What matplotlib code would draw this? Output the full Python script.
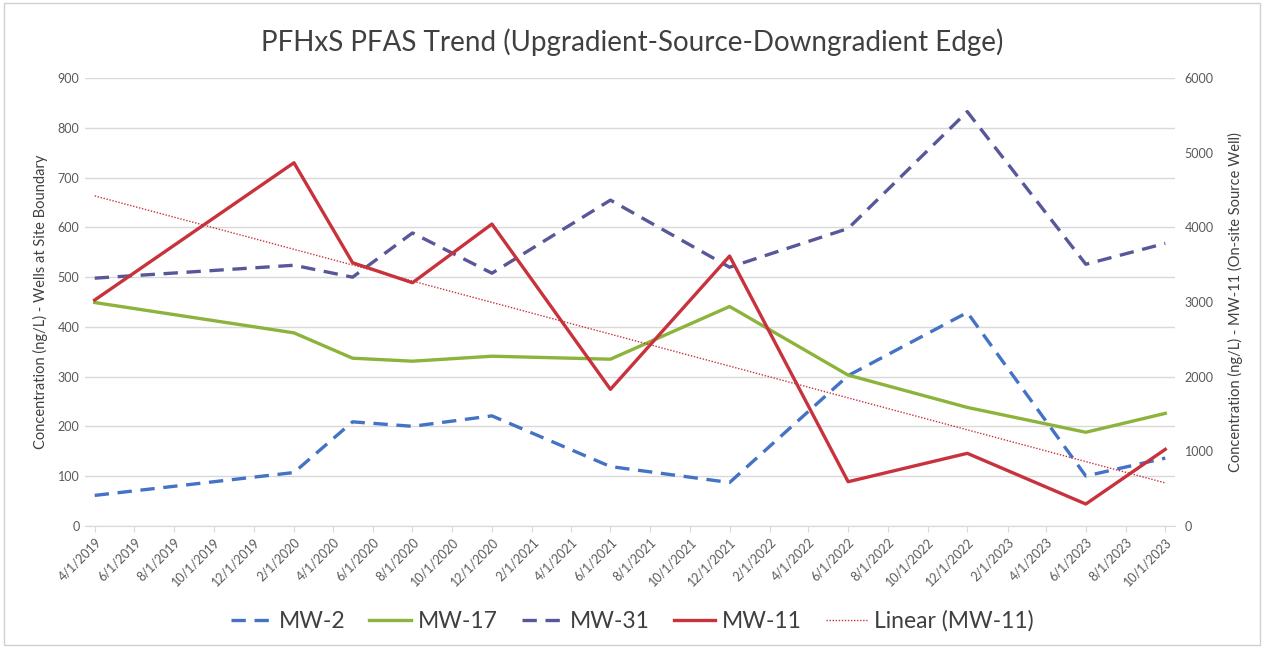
import matplotlib
matplotlib.use("Agg")
import matplotlib.pyplot as plt
import matplotlib.dates as mdates
import numpy as np
import pandas as pd

plt.rcParams['font.family'] = ['Lato', 'DejaVu Sans']

sample_dates = ["2019-04-01", "2020-02-01", "2020-05-01", "2020-08-01", "2020-12-01",
                "2021-06-01", "2021-12-01", "2022-06-01", "2022-12-01", "2023-06-01", "2023-10-01"]
mw2 = [61, 107, 209, 200, 221, 119, 87, 302, 429, 100, 136]
mw17 = [449, 388, 337, 331, 341, 335, 441, 303, 238, 188, 226]
mw31 = [498, 524, 500, 589, 508, 655, 520, 598, 833, 526, 568]
mw11 = [3027, 4868, 3527, 3259, 4046, 1829, 3617, 590, 971, 291, 1024]

tick_dates = pd.date_range("2019-04-01", "2023-10-01", freq="2MS")
left_ticks = list(range(0, 901, 100))
right_ticks = list(range(0, 6001, 1000))

title = "PFHxS PFAS Trend (Upgradient-Source-Downgradient Edge)"
left_label = "Concentration (ng/L) - Wells at Site Boundary"
right_label = "Concentration (ng/L) - MW-11 (On-site Source Well)"

dates = pd.to_datetime(sample_dates)

fig = plt.figure(figsize=(12.64, 6.48), dpi=100)
ax = fig.add_axes([0.0672, 0.1887, 0.8624, 0.6904])
ax2 = ax.twinx()

c_blue = "#4472C4"
c_green = "#8CB33C"
c_purple = "#57579A"
c_red = "#C8323C"
gray_txt = "#595959"

lw = 2.4
ax.plot(dates, mw2, color=c_blue, lw=lw, dashes=(4.3, 2.6), label="MW-2", zorder=3)
ax.plot(dates, mw17, color=c_green, lw=lw, label="MW-17", zorder=3)
ax.plot(dates, mw31, color=c_purple, lw=lw, dashes=(4.3, 2.6), label="MW-31", zorder=3)
ax2.plot(dates, mw11, color=c_red, lw=lw, label="MW-11", zorder=4)

# linear trendline of MW-11
xn = mdates.date2num(dates)
coef = np.polyfit(xn, mw11, 1)
tx = np.array([xn[0], xn[-1]])
ax2.plot(mdates.num2date(tx), np.polyval(coef, tx), color=c_red, lw=1.0,
         linestyle=(0, (1, 1.2)), label="Linear (MW-11)", zorder=4)

ax.set_ylim(0, 900)
ax2.set_ylim(0, 6000)
ax.set_yticks(left_ticks)
ax2.set_yticks(right_ticks)
ax.set_xlim(pd.Timestamp("2019-03-17"), pd.Timestamp("2023-10-16"))
ax.set_xticks(tick_dates)
ax.set_xticklabels([f"{d.month}/{d.day}/{d.year}" for d in tick_dates],
                   rotation=45, ha="right", rotation_mode="anchor", fontsize=9, color=gray_txt)

ax.grid(axis="y", color="#D9D9D9", lw=1.0)
ax.set_axisbelow(True)
for a in (ax, ax2):
    for s in a.spines.values():
        s.set_visible(False)
ax.spines["bottom"].set_visible(True)
ax.spines["bottom"].set_color("#D9D9D9")
ax.tick_params(axis="y", length=0, labelsize=9, labelcolor=gray_txt, pad=4)
ax2.tick_params(axis="y", length=0, labelsize=9, labelcolor=gray_txt, pad=7)
ax.tick_params(axis="x", length=4, color="#D9D9D9", pad=3)

ax.set_ylabel(left_label, fontsize=10.5, color="#404040", labelpad=7)
ax2.set_ylabel(right_label, fontsize=10.5, color="#404040", rotation=90, labelpad=10)

fig.text(0.5, 0.935, title, ha="center", va="center", fontsize=20, color="#404040")

h1, l1 = ax.get_legend_handles_labels()
h2, l2 = ax2.get_legend_handles_labels()
fig.legend(h1 + h2, l1 + l2, loc="center", bbox_to_anchor=(0.5, 0.042), ncol=5,
           frameon=False, fontsize=16.5, handlelength=1.8, columnspacing=1.05,
           handletextpad=0.3, labelcolor="#404040")

fig.patches.append(plt.Rectangle((0.003, 0.004), 0.994, 0.992, transform=fig.transFigure,
                                 fill=False, edgecolor="#D0D0D0", lw=1.0))

fig.savefig("out.png", dpi=100, facecolor="white")
